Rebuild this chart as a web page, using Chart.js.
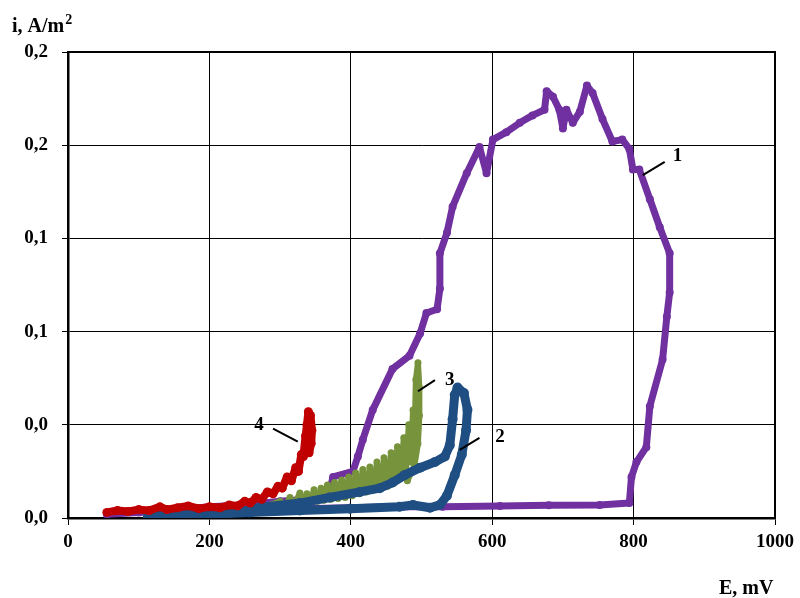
<!DOCTYPE html>
<html>
<head>
<meta charset="utf-8">
<script src="https://cdn.jsdelivr.net/npm/chart.js@4.4.0/dist/chart.umd.min.js"></script>
<style>
  body { margin: 0; background: #fff; }
  #wrap { width: 800px; height: 598px; }
</style>
</head>
<body>
<div id="wrap"><canvas id="chart" width="800" height="598"></canvas></div>
<script>
// tick labels
const xTickLabels = ['0', '200', '400', '600', '800', '1000'];
const yTickLabels = ['0,0', '0,0', '0,1', '0,1', '0,2', '0,2'];

// curve 1 (purple)
const curve1E = [55, 100, 150, 200, 250, 300, 340, 365, 370, 375, 403, 410, 417, 431, 459, 483, 498, 507, 522, 526,
  526, 536, 544, 564, 582, 592, 601, 620, 639, 657, 674, 677, 686, 695, 700, 705, 714, 724, 734, 742,
  756, 770, 784, 794, 799, 808, 823, 837, 851, 851, 847, 841, 823, 818, 804, 797, 794, 752, 680, 611,
  530, 469, 399, 330];
const curve1I = [0.002, 0.003, 0.004, 0.006, 0.007, 0.009, 0.010, 0.012, 0.015, 0.022, 0.025, 0.033, 0.042, 0.058, 0.080, 0.087, 0.099, 0.110, 0.112, 0.123,
  0.142, 0.153, 0.167, 0.185, 0.199, 0.185, 0.203, 0.207, 0.212, 0.216, 0.219, 0.229, 0.226, 0.219, 0.209, 0.219, 0.212, 0.218, 0.232, 0.228,
  0.214, 0.202, 0.203, 0.198, 0.187, 0.187, 0.171, 0.156, 0.142, 0.121, 0.108, 0.085, 0.060, 0.038, 0.030, 0.022, 0.008, 0.007, 0.0068, 0.0065,
  0.006, 0.006, 0.0055, 0.005];

// curve 2 (blue)
const curve2E = [113, 187, 257, 328, 399, 469, 488, 512, 526, 536, 547, 557, 563, 565, 560, 551, 547, 544, 540, 533,
  519, 498, 476, 459, 441, 413, 370, 328, 257, 187, 116];
const curve2I = [0.0005, 0.0016, 0.003, 0.004, 0.005, 0.006, 0.007, 0.0055, 0.007, 0.012, 0.023, 0.034, 0.047, 0.058, 0.067, 0.070, 0.066, 0.053, 0.039, 0.033,
  0.030, 0.027, 0.023, 0.019, 0.016, 0.014, 0.011, 0.008, 0.005, 0.003, 0.0016];

// curve 3 (green)
const curve3E = [230, 270, 300, 307, 314, 320, 328, 333, 338, 343, 348, 353, 358, 362, 367, 372, 377, 382, 387, 392,
  397, 402, 407, 412, 417, 422, 427, 432, 437, 442, 447, 452, 457, 461, 466, 470, 475, 478, 482, 485,
  488, 490, 492, 495, 497, 497, 495, 490, 480];
const curve3I = [0.003, 0.005, 0.009, 0.006, 0.011, 0.007, 0.0134, 0.008, 0.013, 0.0085, 0.0151, 0.009, 0.016, 0.0095, 0.0177, 0.010, 0.019, 0.0105, 0.0204, 0.011,
  0.022, 0.012, 0.0242, 0.013, 0.026, 0.014, 0.0274, 0.015, 0.030, 0.016, 0.0323, 0.017, 0.035, 0.019, 0.0382, 0.021, 0.043, 0.025, 0.050, 0.030,
  0.058, 0.040, 0.0742, 0.0833, 0.070, 0.055, 0.040, 0.028, 0.020];

// curve 4 (red)
const curve4E = [55, 70, 85, 100, 115, 130, 140, 155, 170, 185, 200, 215, 228, 240, 250, 258, 266, 274, 282, 290,
  297, 303, 310, 316, 322, 326, 330, 333, 336, 338, 340, 343, 345, 344, 341];
const curve4I = [0.003, 0.004, 0.0035, 0.0045, 0.004, 0.006, 0.0045, 0.0055, 0.0065, 0.005, 0.006, 0.0055, 0.007, 0.0065, 0.009, 0.008, 0.011, 0.010, 0.014, 0.013,
  0.017, 0.016, 0.022, 0.020, 0.027, 0.025, 0.034, 0.033, 0.044, 0.050, 0.057, 0.055, 0.047, 0.040, 0.035];

// curve numbers with leader lines (data units)
const noteText = ['1', '2', '3', '4'];
const noteE = [862, 611, 540, 270];
const noteI = [0.194, 0.0435, 0.074, 0.050];
const leadFromE = [813, 554, 495, 325];
const leadFromI = [0.184, 0.0366, 0.068, 0.041];
const leadToE = [844, 582, 519, 290];
const leadToI = [0.191, 0.043, 0.074, 0.048];

const serif = '"Liberation Serif", "Times New Roman", serif';

function pts(es, is) {
  return es.map((e, k) => ({ x: e, y: is[k] }));
}

function curve(es, is, color, w) {
  return {
    data: pts(es, is),
    showLine: true,
    borderColor: color,
    backgroundColor: color,
    borderWidth: w,
    pointRadius: w / 2 + 0.5,
    pointBorderWidth: 0,
    borderJoinStyle: 'round',
    borderCapStyle: 'round',
    tension: 0
  };
}

// рамка, подписи кривых и осей
const overlay = {
  id: 'overlay',
  afterDatasetsDraw(chart) {
    const { ctx, chartArea: a, scales: { x, y } } = chart;
    ctx.save();
    ctx.strokeStyle = '#000';
    ctx.lineWidth = 2;
    ctx.beginPath();
    ctx.moveTo(a.left, a.top);
    ctx.lineTo(a.right, a.top);
    ctx.lineTo(a.right, a.bottom);
    ctx.stroke();

    ctx.lineWidth = 2;
    ctx.fillStyle = '#000';
    ctx.font = 'bold 19px ' + serif;
    ctx.textAlign = 'center';
    ctx.textBaseline = 'middle';
    noteText.forEach((t, k) => {
      ctx.beginPath();
      ctx.moveTo(x.getPixelForValue(leadFromE[k]), y.getPixelForValue(leadFromI[k]));
      ctx.lineTo(x.getPixelForValue(leadToE[k]), y.getPixelForValue(leadToI[k]));
      ctx.stroke();
      ctx.fillText(t, x.getPixelForValue(noteE[k]), y.getPixelForValue(noteI[k]));
    });

    ctx.font = 'bold 20px ' + serif;
    ctx.textAlign = 'left';
    ctx.textBaseline = 'alphabetic';
    const base = 'i, A/m';
    ctx.fillText(base, 12, 32);
    const w = ctx.measureText(base).width;
    ctx.font = 'bold 14px ' + serif;
    ctx.fillText('2', 12 + w + 1, 24);
    ctx.font = 'bold 20px ' + serif;
    ctx.fillText('E, mV', 719, 594);
    ctx.restore();
  }
};

const tickFont = { family: serif, weight: 'bold', size: 19 };

new Chart(document.getElementById('chart'), {
  type: 'scatter',
  data: {
    datasets: [
      curve(curve4E, curve4I, '#C00000', 8),
      curve(curve2E, curve2I, '#1F4E82', 9),
      curve(curve3E, curve3I, '#77933C', 6),
      curve(curve1E, curve1I, '#7030A0', 7)
    ]
  },
  options: {
    responsive: false,
    animation: false,
    layout: { padding: { left: 0, top: 52, right: 25, bottom: 0 } },
    plugins: { legend: { display: false }, tooltip: { enabled: false } },
    scales: {
      x: {
        min: 0, max: 1000,
        ticks: {
          stepSize: 200, color: '#000', font: tickFont, padding: 6,
          callback: (v, i) => xTickLabels[i]
        },
        grid: { color: '#000', lineWidth: 1, tickLength: 7 },
        border: { color: '#000', width: 2.5 },
        afterFit(s) { s.height = 80; }
      },
      y: {
        min: 0, max: 0.25,
        ticks: {
          stepSize: 0.05, color: '#000', font: tickFont, padding: 14,
          callback: (v, i) => yTickLabels[i]
        },
        grid: { color: '#000', lineWidth: 1, tickLength: 6 },
        border: { color: '#000', width: 2.5 },
        afterFit(s) { s.width = 68; }
      }
    }
  },
  plugins: [overlay]
});
</script>
</body>
</html>
